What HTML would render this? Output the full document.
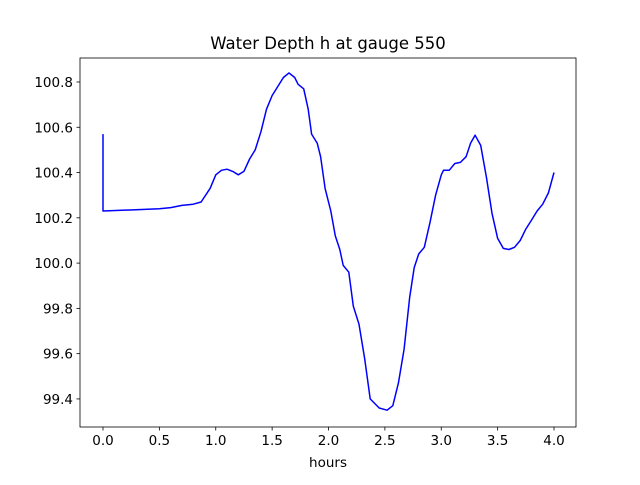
<!DOCTYPE html>
<html><head><meta charset="utf-8"><style>
body{margin:0;background:#fff;}
svg text{font-family:"DejaVu Sans","Liberation Sans",sans-serif;fill:#000;}
</style></head><body>
<svg id="chart" width="640" height="480" xmlns="http://www.w3.org/2000/svg">
<rect x="0" y="0" width="640" height="480" fill="#fff"/>
<g id="ticks"></g>
<polyline id="line" fill="none" stroke="#0000ff" stroke-width="1.5" stroke-linejoin="round"/>
<rect x="80" y="58" width="496" height="369" fill="none" stroke="#000" stroke-width="0.8"/>
<text x="328" y="49" text-anchor="middle" font-size="16.5">Water Depth h at gauge 550</text>
<text x="328" y="467" text-anchor="middle" font-size="13.5">hours</text>
</svg>
<script>
const hours=[0,0,0.5,0.6,0.7,0.8,0.87,0.95,1.0,1.05,1.1,1.15,1.2,1.25,1.3,1.35,1.4,1.45,1.5,1.55,1.6,1.65,1.7,1.73,1.78,1.82,1.85,1.9,1.93,1.97,2.02,2.06,2.1,2.13,2.18,2.22,2.27,2.32,2.37,2.45,2.52,2.57,2.62,2.67,2.72,2.76,2.8,2.85,2.9,2.95,3.0,3.02,3.07,3.12,3.17,3.22,3.26,3.3,3.35,3.4,3.45,3.5,3.55,3.6,3.65,3.7,3.75,3.8,3.85,3.9,3.95,4.0];
const depth=[100.57,100.23,100.24,100.245,100.255,100.26,100.27,100.33,100.39,100.41,100.415,100.405,100.39,100.405,100.46,100.50,100.58,100.68,100.74,100.78,100.82,100.84,100.82,100.79,100.77,100.68,100.57,100.53,100.47,100.33,100.23,100.12,100.06,99.99,99.96,99.81,99.73,99.58,99.40,99.36,99.35,99.37,99.47,99.62,99.85,99.98,100.04,100.07,100.18,100.30,100.39,100.41,100.41,100.44,100.445,100.47,100.53,100.565,100.52,100.38,100.22,100.11,100.065,100.06,100.07,100.1,100.15,100.19,100.23,100.26,100.31,100.4];
const xTicks=[0,0.5,1,1.5,2,2.5,3,3.5,4];
const xTickLabels=["0.0","0.5","1.0","1.5","2.0","2.5","3.0","3.5","4.0"];
const yTicks=[99.4,99.6,99.8,100.0,100.2,100.4,100.6,100.8];
const yTickLabels=["99.4","99.6","99.8","100.0","100.2","100.4","100.6","100.8"];
const X0=-0.204,X1=4.195,Y0=99.276,Y1=100.906;
const L=80,R=576,T=58,B=427;
const sx=v=>L+(v-X0)/(X1-X0)*(R-L);
const sy=v=>B-(v-Y0)/(Y1-Y0)*(B-T);
const NS="http://www.w3.org/2000/svg";
const g=document.getElementById('ticks');
function mk(tag,attrs){const e=document.createElementNS(NS,tag);for(const k in attrs)e.setAttribute(k,attrs[k]);g.appendChild(e);return e;}
xTicks.forEach((t,i)=>{
  const l=mk('line',{x1:sx(t),x2:sx(t),y1:B,y2:B+3.5,stroke:'#000','stroke-width':0.8});
  
  
  const tx=mk('text',{x:sx(t),y:B+18,'text-anchor':'middle','font-size':13.5});
  tx.textContent=xTickLabels[i];
  
  
});
yTicks.forEach((t,i)=>{
  const l=mk('line',{x1:L-3.5,x2:L,y1:sy(t),y2:sy(t),stroke:'#000','stroke-width':0.8});
  
  
  const tx=mk('text',{x:L-7,y:sy(t)+5,'text-anchor':'end','font-size':13.5});
  tx.textContent=yTickLabels[i];
  
  
});
document.getElementById('line').setAttribute('points',hours.map((h,i)=>sx(h).toFixed(1)+','+sy(depth[i]).toFixed(1)).join(' '));
</script>
</body></html>
